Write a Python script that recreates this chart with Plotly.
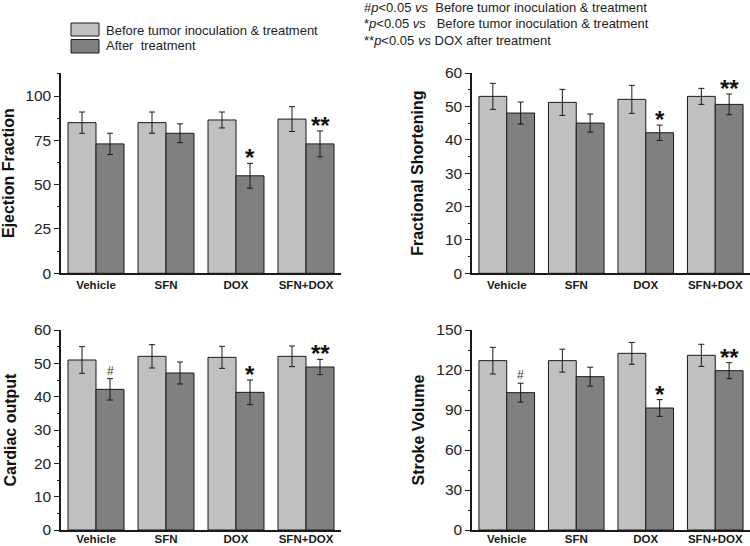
import plotly.graph_objects as go

groups = ["Vehicle", "SFN", "DOX", "SFN+DOX"]

ef_before = [85, 85, 86.5, 87]
ef_before_err = [6, 6, 4.5, 7]
ef_after = [73, 79, 55, 73]
ef_after_err = [6, 5.3, 7, 7.3]

fs_before = [53, 51.2, 52.1, 53]
fs_before_err = [3.9, 3.9, 4.2, 2.4]
fs_after = [48, 45, 42.1, 50.6]
fs_after_err = [3.3, 2.7, 2.3, 3.1]

co_before = [51, 52.1, 51.8, 52.1]
co_before_err = [4, 3.5, 3.3, 3.1]
co_after = [42.2, 47.1, 41.3, 48.9]
co_after_err = [3.2, 3.3, 3.7, 2.3]

sv_before = [127, 127, 132.5, 131]
sv_before_err = [10, 8.6, 8.2, 8.3]
sv_after = [103, 115, 91.5, 119.5]
sv_after_err = [7.1, 7.1, 6.3, 6]

# significance marks on the "after" bars: (group index, label)
marks_top = [(2, "*"), (3, "**")]
marks_bottom = [(0, "#"), (2, "*"), (3, "**")]

LIGHT = "#c0c0c0"
DARK = "#808080"
FONT = "Liberation Sans, Arial, sans-serif"

panels = [
    dict(xa="x", ya="y", before=ef_before, be=ef_before_err, after=ef_after, ae=ef_after_err,
         rng=[0, 113], dtick=25, title="Ejection Fraction", marks=marks_top,
         xdom=[61/750, 341/750], ydom=[1-273.3/546, 1-73/546], standoff=12, lblshift=0),
    dict(xa="x2", ya="y2", before=fs_before, be=fs_before_err, after=fs_after, ae=fs_after_err,
         rng=[0, 60], dtick=10, title="Fractional Shortening", marks=marks_top,
         xdom=[472/750, 1.0], ydom=[1-273.3/546, 1-73/546], standoff=17, lblshift=0),
    dict(xa="x3", ya="y3", before=co_before, be=co_before_err, after=co_after, ae=co_after_err,
         rng=[0, 60], dtick=10, title="Cardiac output", marks=marks_bottom,
         xdom=[61/750, 341/750], ydom=[1-530/546, 1-330/546], standoff=13, lblshift=-3),
    dict(xa="x4", ya="y4", before=sv_before, be=sv_before_err, after=sv_after, ae=sv_after_err,
         rng=[0, 150], dtick=30, title="Stroke Volume", marks=marks_bottom,
         xdom=[472/750, 1.0], ydom=[1-530/546, 1-330/546], standoff=8, lblshift=-3),
]

fig = go.Figure()
annotations = []
layout = {}

for i, p in enumerate(panels):
    fig.add_trace(go.Bar(
        x=groups, y=p["before"], xaxis=p["xa"], yaxis=p["ya"],
        name="Before tumor inoculation & treatment", showlegend=False,
        marker=dict(color=LIGHT, line=dict(color="#1a1a1a", width=1)),
        error_y=dict(type="data", array=p["be"], color="#1a1a1a", thickness=1, width=3),
    ))
    fig.add_trace(go.Bar(
        x=groups, y=p["after"], xaxis=p["xa"], yaxis=p["ya"],
        name="After  treatment", showlegend=False,
        marker=dict(color=DARK, line=dict(color="#1a1a1a", width=1)),
        error_y=dict(type="data", array=p["ae"], color="#1a1a1a", thickness=1, width=3),
    ))
    xkey = "xaxis" if i == 0 else f"xaxis{i+1}"
    ykey = "yaxis" if i == 0 else f"yaxis{i+1}"
    layout[xkey] = dict(
        domain=p["xdom"], anchor=p["ya"], type="category", automargin=False,
        showline=True, linecolor="#1a1a1a", linewidth=1.5, ticks="",
        ticklabelstandoff=p["lblshift"],
        tickfont=dict(family=FONT, size=11.5, color="#1a1a1a", weight="bold"),
        showgrid=False, zeroline=False, fixedrange=True,
    )
    layout[ykey] = dict(
        domain=p["ydom"], anchor=p["xa"], range=p["rng"], dtick=p["dtick"], tick0=0,
        automargin=False,
        showline=True, linecolor="#1a1a1a", linewidth=1.5, ticks="outside", ticklen=5,
        tickcolor="#1a1a1a", tickwidth=1,
        minor=dict(dtick=p["dtick"]/2, ticks="outside", ticklen=2.5, tickcolor="#1a1a1a"),
        tickfont=dict(family=FONT, size=15.5, color="#222"),
        title=dict(text=p["title"], standoff=p["standoff"],
                   font=dict(family=FONT, size=16, color="#111", weight="bold")),
        showgrid=False, zeroline=False, fixedrange=True,
    )
    for gi, lab in p["marks"]:
        top = p["after"][gi] + p["ae"][gi]
        if lab == "#":
            annotations.append(dict(
                x=gi + 0.2, y=top, xref=p["xa"], yref=p["ya"], text="#",
                showarrow=False, yanchor="bottom", yshift=-1,
                font=dict(family=FONT, size=12, color="#333")))
        else:
            annotations.append(dict(
                x=gi + 0.2, y=top, xref=p["xa"], yref=p["ya"], text=lab,
                showarrow=False, yanchor="bottom", yshift=-10,
                font=dict(family=FONT, size=24, color="#111", weight="bold")))

# legend drawn as boxes + labels
shapes = [
    dict(type="rect", xref="paper", yref="paper", x0=71/750, x1=99/750,
         y0=1-36/546, y1=1-23/546, fillcolor=LIGHT, line=dict(color="#1a1a1a", width=1)),
    dict(type="rect", xref="paper", yref="paper", x0=71/750, x1=99/750,
         y0=1-53/546, y1=1-39.5/546, fillcolor=DARK, line=dict(color="#1a1a1a", width=1)),
]
annotations += [
    dict(x=104/750, y=1-30/546, xref="paper", yref="paper", xanchor="left", yanchor="middle",
         text="Before tumor inoculation & treatment", showarrow=False,
         font=dict(family=FONT, size=13, color="#222")),
    dict(x=104/750, y=1-45.5/546, xref="paper", yref="paper", xanchor="left", yanchor="middle",
         text="After  treatment", showarrow=False,
         font=dict(family=FONT, size=13, color="#222")),
]

notes = [
    "#<i>p</i><0.05 <i>vs</i>  Before tumor inoculation & treatment",
    "*<i>p</i><0.05 <i>vs</i>   Before tumor inoculation & treatment",
    "**<i>p</i><0.05 <i>vs</i> DOX after treatment",
]
note_y = [8, 24, 41]
for k, t in enumerate(notes):
    annotations.append(dict(
        x=362/750, y=1-note_y[k]/546, xref="paper", yref="paper",
        xanchor="left", yanchor="middle", text=t, showarrow=False,
        font=dict(family=FONT, size=13, color="#222")))

fig.update_layout(
    width=750, height=546,
    margin=dict(l=0, r=0, t=0, b=0, autoexpand=False),
    paper_bgcolor="white", plot_bgcolor="white",
    barmode="group", bargap=0.2, bargroupgap=0,
    showlegend=False,
    shapes=shapes, annotations=annotations,
    **layout,
)

fig.write_html("out.html", config={"displayModeBar": False},
               post_script="document.body.style.margin='0';document.body.style.overflow='hidden';")
